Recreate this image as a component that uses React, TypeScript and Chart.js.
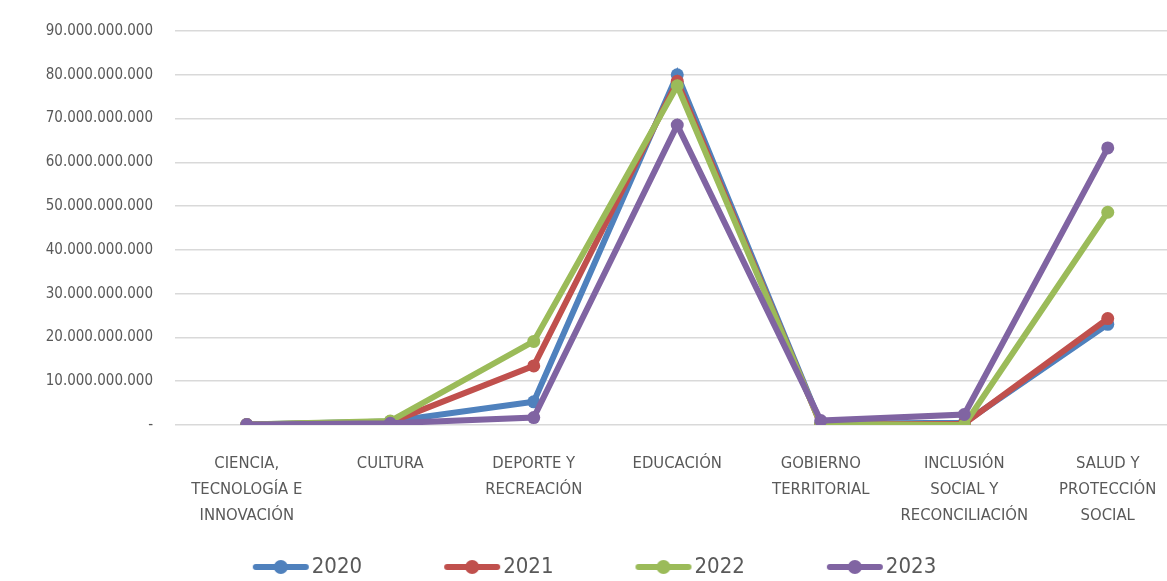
import React, { useEffect, useRef } from "react";
import { Chart, registerables } from "chart.js";

Chart.register(...registerables);

const categories: string[][] = [
  ["CIENCIA,", "TECNOLOGÍA E", "INNOVACIÓN"],
  ["CULTURA"],
  ["DEPORTE Y", "RECREACIÓN"],
  ["EDUCACIÓN"],
  ["GOBIERNO", "TERRITORIAL"],
  ["INCLUSIÓN", "SOCIAL Y", "RECONCILIACIÓN"],
  ["SALUD Y", "PROTECCIÓN", "SOCIAL"],
];

const seriesNames = ["2020", "2021", "2022", "2023"];

const values2020 = [0.1e9, 0.8e9, 5.3e9, 80.0e9, 0.3e9, 0.5e9, 23.0e9];
const values2021 = [0.1e9, 0.6e9, 13.5e9, 78.5e9, 0.1e9, 0.3e9, 24.3e9];
const values2022 = [0.1e9, 0.9e9, 19.1e9, 77.5e9, 0.2e9, 0.0e9, 48.6e9];
const values2023 = [0.1e9, 0.4e9, 1.7e9, 68.5e9, 1.0e9, 2.4e9, 63.3e9];

const yTickMax = 90e9;
const yTickStep = 10e9;

const colors = ["#4F81BD", "#C0504D", "#9BBB59", "#8064A2"];
const FONT = "'DejaVu Sans Condensed', 'Liberation Sans Narrow', 'DejaVu Sans', sans-serif";

function formatTick(v: number): string {
  if (v === 0) return "-";
  return Math.round(v).toString().replace(/\B(?=(\d{3})+(?!\d))/g, ".");
}

function makeLegendMarker(color: string): HTMLCanvasElement {
  const c = document.createElement("canvas");
  c.width = 138;
  c.height = 16;
  const ctx = c.getContext("2d")!;
  ctx.strokeStyle = color;
  ctx.lineWidth = 6;
  ctx.lineCap = "round";
  ctx.beginPath();
  ctx.moveTo(84, 8);
  ctx.lineTo(134, 8);
  ctx.stroke();
  ctx.fillStyle = color;
  ctx.beginPath();
  ctx.arc(109, 8, 7, 0, Math.PI * 2);
  ctx.fill();
  return c;
}

export default function App() {
  const ref = useRef<HTMLCanvasElement | null>(null);

  useEffect(() => {
    if (!ref.current) return;
    const all = [values2020, values2021, values2022, values2023];
    const markers = colors.map(makeLegendMarker);
    const chart = new Chart(ref.current, {
      type: "line",
      data: {
        labels: categories,
        datasets: all.map((d, i) => ({
          label: seriesNames[i],
          data: d,
          borderColor: colors[i],
          backgroundColor: colors[i],
          borderWidth: 6,
          pointRadius: 6.5,
          pointBorderWidth: 0,
          pointBackgroundColor: colors[i],
          tension: 0,
          fill: false,
          order: 4 - i,
        })),
      },
      options: {
        responsive: false,
        animation: false,
        devicePixelRatio: 1,
        layout: { padding: { top: 28, right: 0, bottom: 0, left: 0 } },
        plugins: {
          tooltip: { enabled: false },
          legend: {
            position: "bottom",
            labels: {
              usePointStyle: true,
              pointStyleWidth: 120,
              padding: 10,
              color: "#595959",
              font: { family: FONT, size: 22 },
              generateLabels: (ch: any) =>
                ch.data.datasets.map((ds: any, i: number) => ({
                  text: ds.label,
                  fillStyle: colors[i],
                  strokeStyle: colors[i],
                  lineWidth: 0,
                  pointStyle: markers[i],
                  hidden: false,
                  datasetIndex: i,
                  fontColor: "#595959",
                })),
            },
          },
        },
        scales: {
          x: {
            offset: true,
            grid: { display: false },
            border: { display: false },
            afterFit: (s: any) => {
              s.height = 121;
            },
            ticks: {
              color: "#595959",
              padding: 18,
              maxRotation: 0,
              autoSkip: false,
              font: { family: FONT, size: 16.5, lineHeight: 1.58 },
            },
          },
          y: {
            min: 0,
            max: yTickMax,
            afterFit: (s: any) => {
              s.width = 244;
            },
            grid: { color: "#d9d9d9", lineWidth: 1.5, drawTicks: false },
            border: { display: false },
            ticks: {
              stepSize: yTickStep,
              padding: 22,
              color: "#595959",
              font: { family: FONT, size: 15 },
              callback: (v: any) => formatTick(Number(v)),
            },
          },
        },
      },
    });
    return () => chart.destroy();
  }, []);

  return (
    <div
      style={{
        position: "fixed",
        left: 0,
        top: 0,
        width: 1167,
        height: 581,
        overflow: "hidden",
        background: "#ffffff",
      }}
    >
      <canvas
        ref={ref}
        width={1255}
        height={588}
        style={{ position: "absolute", left: -69, top: 0, width: 1255, height: 588 }}
      />
    </div>
  );
}
